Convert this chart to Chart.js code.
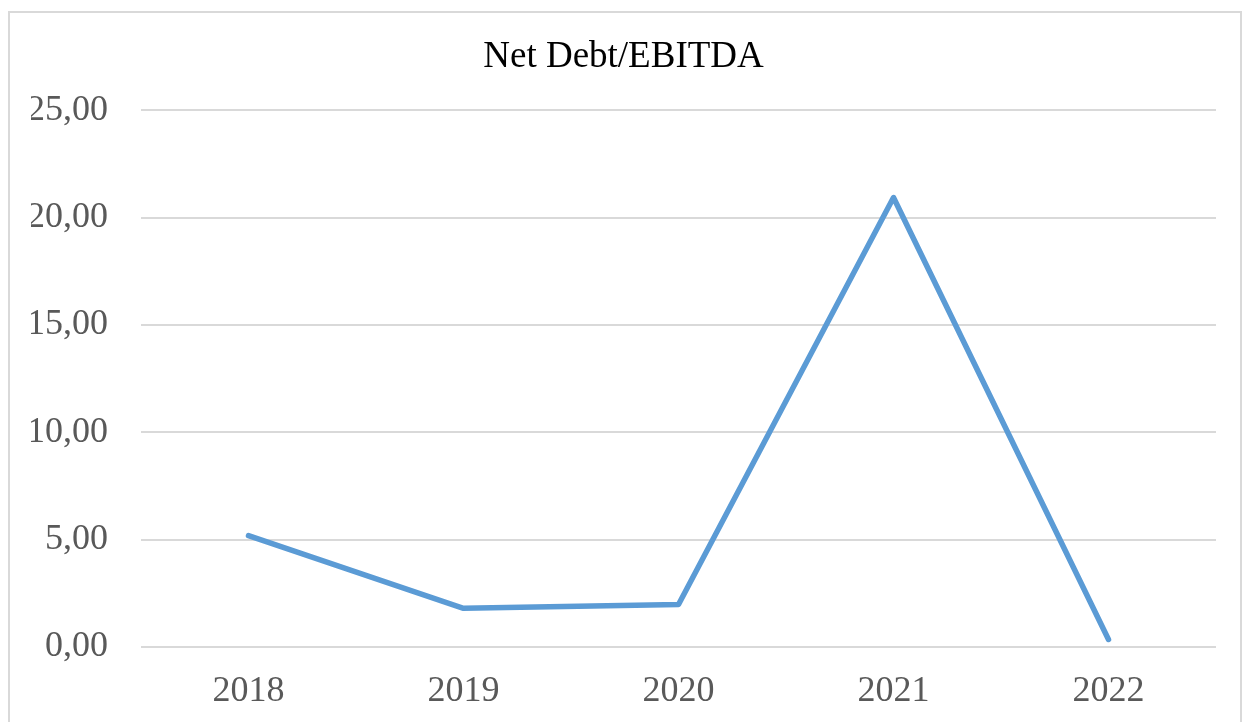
<!DOCTYPE html>
<html>
<head>
<meta charset="utf-8">
<script src="https://cdn.jsdelivr.net/npm/chart.js@4.4.1/dist/chart.umd.min.js"></script>
<style>
  html, body { margin: 0; padding: 0; background: #fff; overflow: hidden; }
  #wrap { position: relative; width: 1247px; height: 722px; }
  #lineChart { display: block; }
  #frame {
    position: absolute; left: 8px; top: 11px; width: 1230px; height: 720px;
    border: 2px solid #d9d9d9; pointer-events: none;
  }
</style>
</head>
<body>
<div id="wrap">
  <canvas id="lineChart" width="1247" height="722"></canvas>
  <div id="frame"></div>
</div>
<script>
// dados do gráfico
const anos = ['2018', '2019', '2020', '2021', '2022'];
const dividaEbitda = [5.19, 1.80, 1.98, 20.94, 0.35];
const eixoY = { min: 0, max: 25, passo: 5 };

const fonteSerif = '"Liberation Serif", "Times New Roman", serif';

function renderLineChart() {
    var ctx = document.getElementById('lineChart').getContext('2d');
    new Chart(ctx, {
        type: 'line',
        data: {
            labels: anos,
            datasets: [{
                label: 'Net Debt/EBITDA',
                data: dividaEbitda,
                borderColor: '#5b9bd5',
                backgroundColor: '#5b9bd5',
                borderWidth: 5.5,
                borderCapStyle: 'round',
                borderJoinStyle: 'round',
                pointRadius: 0,
                tension: 0
            }]
        },
        options: {
            responsive: false,
            animation: false,
            layout: { padding: { left: 31, right: 31, top: 0, bottom: 0 } },
            plugins: {
                legend: { display: false },
                tooltip: { enabled: false },
                title: {
                    display: true,
                    text: 'Net Debt/EBITDA',
                    color: '#000',
                    font: { family: fonteSerif, size: 37, weight: 'normal' },
                    padding: { top: 35, bottom: 31 }
                }
            },
            scales: {
                x: {
                    offset: true,
                    afterFit: function (scale) { scale.height = 75; },
                    grid: { display: false, drawTicks: false },
                    border: { display: false },
                    ticks: {
                        color: '#595959',
                        padding: 23,
                        font: { family: fonteSerif, size: 36 }
                    }
                },
                y: {
                    min: eixoY.min,
                    max: eixoY.max,
                    afterFit: function (scale) { scale.width = 110; },
                    grid: { color: '#d9d9d9', lineWidth: 2, drawTicks: false },
                    border: { display: false },
                    ticks: {
                        stepSize: eixoY.passo,
                        color: '#595959',
                        padding: 33,
                        font: { family: fonteSerif, size: 36 },
                        callback: function (v) { return v.toFixed(2).replace('.', ','); }
                    }
                }
            }
        }
    });
}

renderLineChart();
</script>
</body>
</html>
